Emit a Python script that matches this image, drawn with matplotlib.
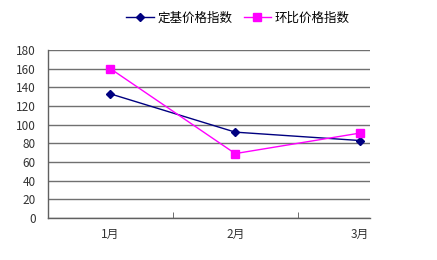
"""
Price index line chart (定基 vs 环比)
"""
import matplotlib.pyplot as plt

plt.rcParams['font.family'] = ['Noto Sans CJK SC', 'DejaVu Sans']
plt.rcParams['font.size'] = 8.5

# Data
months = ['1月', '2月', '3月']
fixed_base = [133, 92, 83]
chain = [160, 69, 91]
yticks = list(range(0, 181, 20))

fig = plt.figure(figsize=(4.37, 2.6), dpi=100)
ax = fig.add_axes([48/437, 1-218/260, 322/437, 168/260])

x = list(range(len(months)))
ax.plot(x, fixed_base, color='#000080', marker='D', markersize=4,
        linewidth=1, label='定基价格指数')
ax.plot(x, chain, color='#FF00FF', marker='s', markersize=6,
        linewidth=1, label='环比价格指数')

ax.set_ylim(0, 180)
ax.set_yticks(yticks)
ax.set_xlim(-0.5, 2.08)
ax.set_xticks(x)
ax.set_xticklabels(months)
ax.set_xticks([0.5, 1.5], minor=True)
ax.tick_params(axis='x', which='major', length=0, pad=7, colors='#333333')
ax.tick_params(axis='x', which='minor', length=4, direction='in', color='#555555')
ax.tick_params(axis='y', length=0, pad=9, colors='#333333')

ax.grid(axis='y', color='#707070', linewidth=1)
ax.set_axisbelow(True)
for s in ['top', 'right']:
    ax.spines[s].set_visible(False)
for s in ['left', 'bottom']:
    ax.spines[s].set_color('#606060')
    ax.spines[s].set_linewidth(1)

fig.legend(loc='center', bbox_to_anchor=(238/437, 1-18/260), ncol=2,
           frameon=False, handlelength=2.2, columnspacing=0.9,
           handletextpad=0.3, fontsize=9)

fig.savefig('out.png', dpi=100, facecolor='white')
